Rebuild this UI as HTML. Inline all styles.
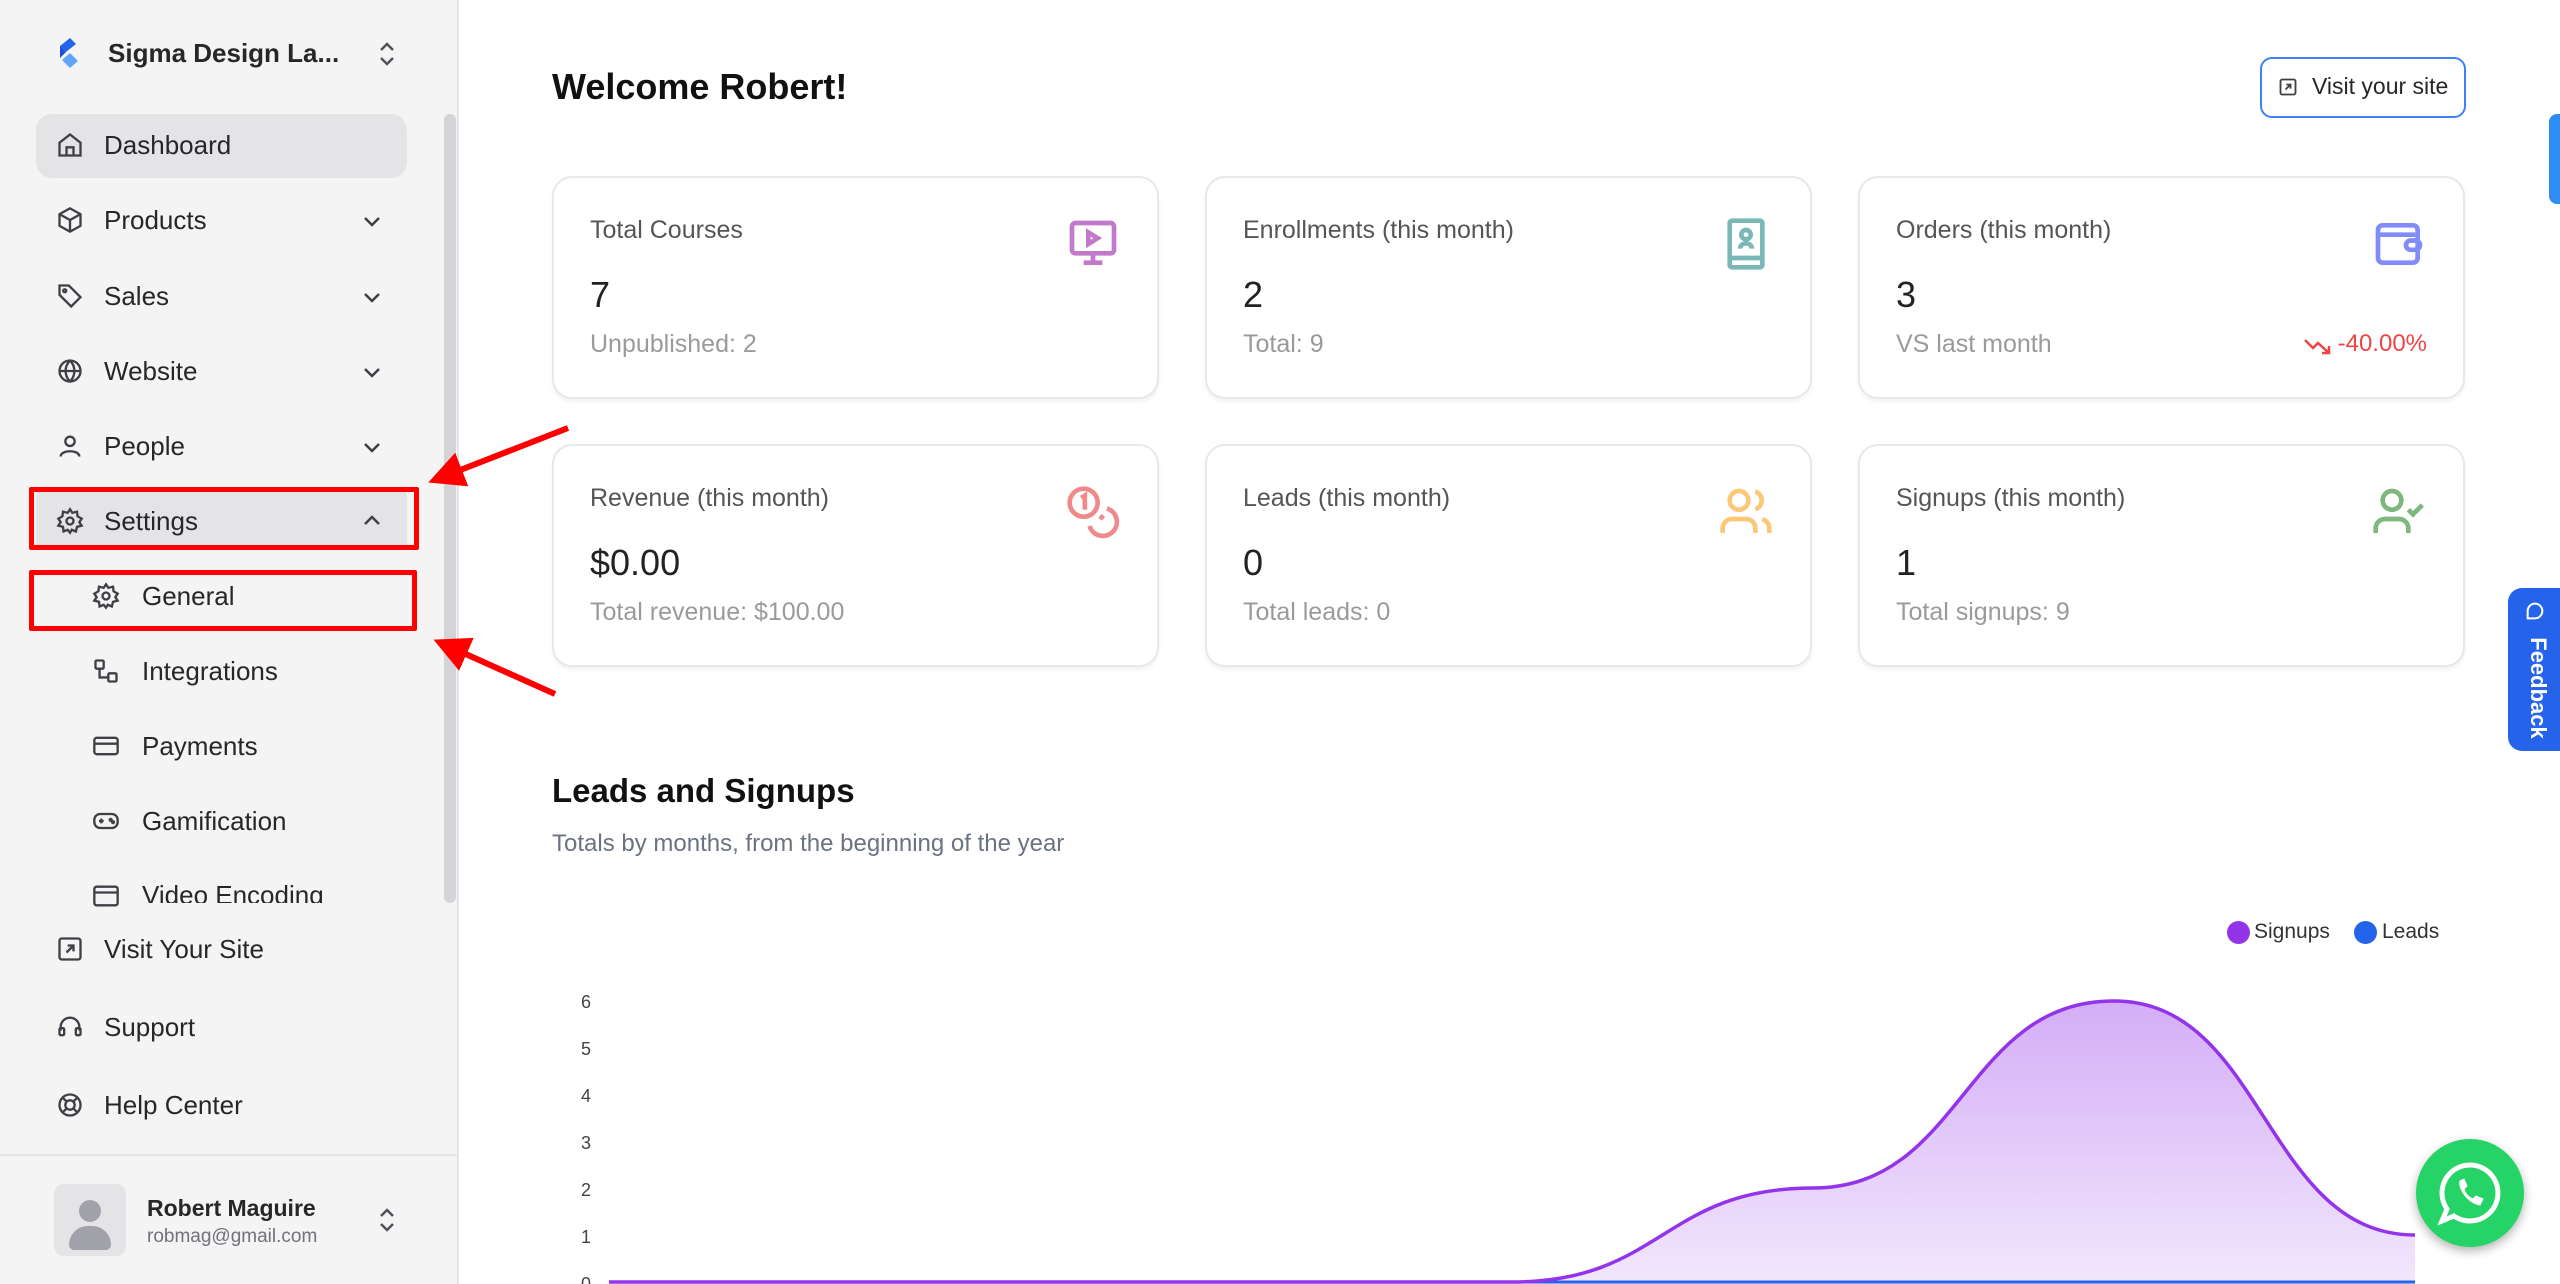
<!DOCTYPE html>
<html><head><meta charset="utf-8"><style>
*{margin:0;padding:0;box-sizing:border-box}
body{width:2560px;height:1284px;overflow:hidden;background:#fff;font-family:"Liberation Sans",sans-serif;position:relative;color:#18181b}
.a{position:absolute}
#sb{left:0;top:0;width:459px;height:1284px;background:#f4f4f5;border-right:2px solid #e4e4e7}
.nav{position:absolute;left:104px;font-size:26px;color:#27272a;font-weight:500;line-height:30px}
.ic{position:absolute;width:28px;height:28px}
.chev{position:absolute;left:360px;width:24px;height:24px}
.card{position:absolute;width:607px;height:223px;border:2px solid #e8e8ea;border-radius:20px;box-shadow:0 3px 4px rgba(0,0,0,0.05);background:#fff}
.ct{position:absolute;left:36px;top:38px;font-size:25px;color:#555}
.cv{position:absolute;left:36px;top:96px;font-size:36px;font-weight:500;color:#222}
.cs{position:absolute;left:36px;top:152px;font-size:25px;color:#9a9a9a}
.ci{position:absolute;right:36px;top:38px;width:56px;height:56px}
</style></head><body>
<div id="sb" class="a"></div>
<svg class="a" style="left:56px;top:36px" width="26" height="36" viewBox="0 0 26 36"><path d="M4 10 L14 2 L20 8 L10 16 Z" fill="#2563eb"/><path d="M4 10 L10 16 L4 22 Z" fill="#1d4ed8"/><path d="M6 24 L14 17 L22 25 L14 32 Z" fill="#60a5fa"/></svg>
<div class="a" style="left:108px;top:38px;font-size:26px;font-weight:600;color:#27272a">Sigma Design La...</div>
<svg class="a" style="left:376px;top:40px" width="22" height="28" viewBox="0 0 22 28" fill="none" stroke="#52525b" stroke-width="2.5"><path d="M5 10 L11 4 L17 10 M5 18 L11 24 L17 18"/></svg>
<div class="a" style="left:36px;top:114px;width:371px;height:64px;background:#e4e4e7;border-radius:16px"></div>
<div class="a" style="left:36px;top:490px;width:371px;height:60px;background:#e4e4e7;border-radius:6px"></div>
<svg class="ic" style="left:56px;top:131px" viewBox="0 0 24 24" fill="none" stroke="#3f3f46" stroke-width="2"><path d="M3 10 L12 3 L21 10 V21 H3 Z M9 21 V14 H15 V21"/></svg>
<svg class="ic" style="left:56px;top:206px" viewBox="0 0 24 24" fill="none" stroke="#3f3f46" stroke-width="2"><path d="M12 2 L21 7 V17 L12 22 L3 17 V7 Z M3 7 L12 12 L21 7 M12 12 V22"/></svg>
<svg class="ic" style="left:56px;top:282px" viewBox="0 0 24 24" fill="none" stroke="#3f3f46" stroke-width="2"><path d="M3 3 H11 L21 13 L13 21 L3 11 Z"/><circle cx="7.5" cy="7.5" r="1.3"/></svg>
<svg class="ic" style="left:56px;top:357px" viewBox="0 0 24 24" fill="none" stroke="#3f3f46" stroke-width="2"><circle cx="12" cy="12" r="9"/><path d="M3 12 H21 M12 3 C7 8 7 16 12 21 C17 16 17 8 12 3"/></svg>
<svg class="ic" style="left:56px;top:432px" viewBox="0 0 24 24" fill="none" stroke="#3f3f46" stroke-width="2"><circle cx="12" cy="8" r="4"/><path d="M4 21 C4 15 20 15 20 21"/></svg>
<svg class="ic" style="left:56px;top:507px" viewBox="0 0 24 24" fill="none" stroke="#3f3f46" stroke-width="2"><circle cx="12" cy="12" r="3"/><path d="M12 2 L14 5 L18 4 L18.5 8 L22 10 L20 13 L22 16 L18 17 L17 21 L13.5 19.5 L12 22 L10 19.5 L6.5 21 L6 17 L2 16 L4 13 L2 10 L5.5 8 L6 4 L10 5 Z"/></svg>
<svg class="ic" style="left:92px;top:582px" viewBox="0 0 24 24" fill="none" stroke="#3f3f46" stroke-width="2"><circle cx="12" cy="12" r="3"/><path d="M12 2 L14 5 L18 4 L18.5 8 L22 10 L20 13 L22 16 L18 17 L17 21 L13.5 19.5 L12 22 L10 19.5 L6.5 21 L6 17 L2 16 L4 13 L2 10 L5.5 8 L6 4 L10 5 Z"/></svg>
<svg class="ic" style="left:92px;top:657px" viewBox="0 0 24 24" fill="none" stroke="#3f3f46" stroke-width="2"><rect x="3" y="3" width="7" height="7" rx="1"/><rect x="14" y="14" width="7" height="7" rx="1"/><path d="M6.5 10 V17.5 H14"/></svg>
<svg class="ic" style="left:92px;top:732px" viewBox="0 0 24 24" fill="none" stroke="#3f3f46" stroke-width="2"><rect x="2" y="5" width="20" height="14" rx="2"/><path d="M2 10 H22"/></svg>
<svg class="ic" style="left:92px;top:807px" viewBox="0 0 24 24" fill="none" stroke="#3f3f46" stroke-width="2"><rect x="2" y="6" width="20" height="12" rx="5"/><path d="M6 12 H10 M8 10 V14"/><circle cx="16" cy="11" r="0.8"/><circle cx="18" cy="13" r="0.8"/></svg>
<svg class="ic" style="left:92px;top:882px" viewBox="0 0 24 24" fill="none" stroke="#3f3f46" stroke-width="2"><rect x="2" y="4" width="20" height="16" rx="2"/><path d="M2 9 H22"/></svg>
<svg class="ic" style="left:56px;top:935px" viewBox="0 0 24 24" fill="none" stroke="#3f3f46" stroke-width="2"><rect x="3" y="3" width="18" height="18" rx="2"/><path d="M9 15 L15 9 M10 9 H15 V14"/></svg>
<svg class="ic" style="left:56px;top:1013px" viewBox="0 0 24 24" fill="none" stroke="#3f3f46" stroke-width="2"><path d="M4 15 V12 A8 8 0 0 1 20 12 V15"/><rect x="3" y="13" width="4" height="6" rx="1"/><rect x="17" y="13" width="4" height="6" rx="1"/></svg>
<svg class="ic" style="left:56px;top:1091px" viewBox="0 0 24 24" fill="none" stroke="#3f3f46" stroke-width="2"><circle cx="12" cy="12" r="9"/><circle cx="12" cy="12" r="4"/><path d="M5.6 5.6 L9.2 9.2 M18.4 5.6 L14.8 9.2 M5.6 18.4 L9.2 14.8 M18.4 18.4 L14.8 14.8"/></svg>
<div class="nav" style="top:130px">Dashboard</div>
<div class="nav" style="top:205px">Products</div>
<div class="nav" style="top:281px">Sales</div>
<div class="nav" style="top:356px">Website</div>
<div class="nav" style="top:431px">People</div>
<div class="nav" style="top:506px">Settings</div>
<div class="nav" style="left:142px;top:581px">General</div>
<div class="nav" style="left:142px;top:656px">Integrations</div>
<div class="nav" style="left:142px;top:731px">Payments</div>
<div class="nav" style="left:142px;top:806px">Gamification</div>
<div class="a" style="left:0;top:880px;width:440px;height:23px;overflow:hidden"><div class="nav" style="left:142px;top:0">Video Encoding</div></div>
<div class="nav" style="top:934px">Visit Your Site</div>
<div class="nav" style="top:1012px">Support</div>
<div class="nav" style="top:1090px">Help Center</div>
<svg class="chev" style="top:209px" viewBox="0 0 24 24" fill="none" stroke="#3f3f46" stroke-width="2.5"><path d="M5 9 L12 16 L19 9"/></svg>
<svg class="chev" style="top:285px" viewBox="0 0 24 24" fill="none" stroke="#3f3f46" stroke-width="2.5"><path d="M5 9 L12 16 L19 9"/></svg>
<svg class="chev" style="top:360px" viewBox="0 0 24 24" fill="none" stroke="#3f3f46" stroke-width="2.5"><path d="M5 9 L12 16 L19 9"/></svg>
<svg class="chev" style="top:435px" viewBox="0 0 24 24" fill="none" stroke="#3f3f46" stroke-width="2.5"><path d="M5 9 L12 16 L19 9"/></svg>
<svg class="chev" style="top:509px" viewBox="0 0 24 24" fill="none" stroke="#3f3f46" stroke-width="2.5"><path d="M5 15 L12 8 L19 15"/></svg>
<div class="a" style="left:444px;top:114px;width:12px;height:789px;background:#d4d4d8;border-radius:6px"></div>
<div class="a" style="left:0;top:1154px;width:459px;height:2px;background:#e4e4e7"></div>
<div class="a" style="left:54px;top:1184px;width:72px;height:72px;background:#e4e4e7;border-radius:10px;overflow:hidden"><div class="a" style="left:25px;top:16px;width:22px;height:22px;border-radius:50%;background:#a1a1aa"></div><div class="a" style="left:15px;top:42px;width:42px;height:24px;border-radius:21px 21px 6px 6px;background:#a1a1aa"></div></div>
<div class="a" style="left:147px;top:1195px;font-size:23px;font-weight:700;color:#27272a">Robert Maguire</div>
<div class="a" style="left:147px;top:1226px;font-size:19px;color:#71717a">robmag@gmail.com</div>
<svg class="a" style="left:376px;top:1206px" width="22" height="28" viewBox="0 0 22 28" fill="none" stroke="#52525b" stroke-width="2.5"><path d="M5 10 L11 4 L17 10 M5 18 L11 24 L17 18"/></svg>
<div class="a" style="left:29px;top:487px;width:390px;height:63px;border:5px solid #ff0000;border-radius:2px"></div>
<div class="a" style="left:29px;top:570px;width:388px;height:61px;border:5px solid #ff0000;border-radius:2px"></div>
<svg class="a" style="left:0;top:0" width="600" height="720"><defs><marker id="ah" markerWidth="6" markerHeight="6" refX="3" refY="3" orient="auto"><path d="M0 0 L6 3 L0 6 Z" fill="#ff0000"/></marker></defs>
<line x1="568" y1="428" x2="445" y2="476" stroke="#ff0000" stroke-width="6" marker-end="url(#ah)"/>
<line x1="555" y1="694" x2="450" y2="647" stroke="#ff0000" stroke-width="6" marker-end="url(#ah)"/></svg>
<div class="a" style="left:552px;top:66px;font-size:36px;font-weight:700;color:#111">Welcome Robert!</div>
<div class="a" style="left:2260px;top:57px;width:206px;height:61px;border:2px solid #3b82f6;border-radius:12px"></div>
<svg class="a" style="left:2278px;top:77px" width="20" height="20" viewBox="0 0 24 24" fill="none" stroke="#3f3f46" stroke-width="2.2"><rect x="3" y="3" width="18" height="18" rx="2"/><path d="M9 15 L15 9 M10 9 H15 V14"/></svg>
<div class="a" style="left:2312px;top:73px;font-size:23px;color:#27272a;font-weight:500">Visit your site</div>
<div class="card" style="left:552px;top:176px"><div class="ct">Total Courses</div><div class="cv">7</div><div class="cs">Unpublished: 2</div>
<svg class="ci" viewBox="0 0 24 24" fill="none" stroke="#c17ac9" stroke-width="2"><rect x="3" y="3" width="18" height="13" rx="1.5"/><path d="M10 7 L14 9.5 L10 12 Z M12 16 V20 M8 20 H16"/></svg></div>
<div class="card" style="left:1205px;top:176px"><div class="ct">Enrollments (this month)</div><div class="cv">2</div><div class="cs">Total: 9</div>
<svg class="ci" viewBox="0 0 24 24" fill="none" stroke="#7ab8b8" stroke-width="2"><rect x="5" y="2" width="14" height="20" rx="1"/><path d="M5 18 H19"/><circle cx="12" cy="8" r="2"/><path d="M9.5 14 C9.5 11 14.5 11 14.5 14"/></svg></div>
<div class="card" style="left:1858px;top:176px"><div class="ct">Orders (this month)</div><div class="cv">3</div><div class="cs">VS last month</div>
<svg class="ci" viewBox="0 0 24 24" fill="none" stroke="#818cf8" stroke-width="2"><rect x="3" y="4" width="17" height="16" rx="2"/><path d="M3 8 H19"/><rect x="15" y="10.5" width="6" height="4" rx="2"/></svg>
<div class="a" style="right:36px;top:152px;font-size:24px;color:#ef4444">-40.00%</div>
<svg class="a" style="right:130px;top:156px" width="30" height="24" viewBox="0 0 30 24" fill="none" stroke="#ef4444" stroke-width="2.5"><path d="M2 6 L10 14 L15 9 L26 19 M26 12 V19 H19"/></svg></div>
<div class="card" style="left:552px;top:444px"><div class="ct">Revenue (this month)</div><div class="cv">$0.00</div><div class="cs">Total revenue: $100.00</div>
<svg class="ci" viewBox="0 0 24 24" fill="none" stroke="#f08a8a" stroke-width="2"><circle cx="8" cy="8" r="6"/><path d="M7 6 L8.5 5 V11"/><path d="M18 10.5 A6 6 0 1 1 10.5 18"/><path d="M15 15 L16.5 13.5"/></svg></div>
<div class="card" style="left:1205px;top:444px"><div class="ct">Leads (this month)</div><div class="cv">0</div><div class="cs">Total leads: 0</div>
<svg class="ci" viewBox="0 0 24 24" fill="none" stroke="#fbc87a" stroke-width="2"><circle cx="9" cy="7" r="4"/><path d="M2 21 V19 A4 4 0 0 1 6 15 H12 A4 4 0 0 1 16 19 V21 M16 3.2 A4 4 0 0 1 16 10.8 M22 21 V19 A4 4 0 0 0 19 15.1"/></svg></div>
<div class="card" style="left:1858px;top:444px"><div class="ct">Signups (this month)</div><div class="cv">1</div><div class="cs">Total signups: 9</div>
<svg class="ci" viewBox="0 0 24 24" fill="none" stroke="#7fb77e" stroke-width="2"><circle cx="9" cy="7" r="4"/><path d="M2 21 V19 A4 4 0 0 1 6 15 H12 A4 4 0 0 1 16 19 V21 M16 11 L18 13 L22 9"/></svg></div>
<div class="a" style="left:552px;top:772px;font-size:33px;font-weight:600;color:#111">Leads and Signups</div>
<div class="a" style="left:552px;top:830px;font-size:24px;color:#6b7280">Totals by months, from the beginning of the year</div>
<div class="a" style="left:2227px;top:921px;width:23px;height:23px;border-radius:50%;background:#9333ea"></div>
<div class="a" style="left:2254px;top:920px;font-size:21px;color:#333">Signups</div>
<div class="a" style="left:2354px;top:921px;width:23px;height:23px;border-radius:50%;background:#2563eb"></div>
<div class="a" style="left:2382px;top:920px;font-size:21px;color:#333">Leads</div>
<svg class="a" style="left:0;top:0" width="2560" height="1284">
<defs><linearGradient id="g" x1="0" y1="1001" x2="0" y2="1282" gradientUnits="userSpaceOnUse"><stop offset="0" stop-color="#9333ea" stop-opacity="0.4"/><stop offset="1" stop-color="#9333ea" stop-opacity="0.12"/></linearGradient></defs>
<g font-family="Liberation Sans" font-size="18" fill="#444" text-anchor="middle">
<text x="586" y="1008">6</text><text x="586" y="1055">5</text><text x="586" y="1102">4</text><text x="586" y="1149">3</text><text x="586" y="1196">2</text><text x="586" y="1243">1</text><text x="586" y="1290">0</text></g>
<path d="M1512 1282 C1662 1282 1663 1188 1813 1188 C1963 1188 1964 1001 2114 1001 C2264 1001 2265 1235 2415 1235 L2415 1284 L1512 1284 Z" fill="url(#g)"/>
<line x1="609" y1="1282" x2="2415" y2="1282" stroke="#2563eb" stroke-width="3"/>
<path d="M609 1282 L1512 1282 C1662 1282 1663 1188 1813 1188 C1963 1188 1964 1001 2114 1001 C2264 1001 2265 1235 2415 1235" fill="none" stroke="#9333ea" stroke-width="3.5"/>
</svg>
<div class="a" style="left:2549px;top:114px;width:20px;height:90px;background:#2f8cf5;border-radius:8px 0 0 8px"></div>
<div class="a" style="left:2508px;top:588px;width:60px;height:163px;background:#2563eb;border-radius:14px 0 0 14px"></div>
<div class="a" style="left:2538px;top:688px;transform:translate(-50%,-50%) rotate(90deg);color:#fff;font-size:22px;font-weight:600;white-space:nowrap">Feedback</div>
<svg class="a" style="left:2524px;top:600px" width="22" height="22" viewBox="0 0 24 24" fill="none" stroke="#fff" stroke-width="2.2"><path d="M4 12 A8 8 0 1 1 12 20 H4 Z"/></svg>
<div class="a" style="left:2416px;top:1139px;width:108px;height:108px;border-radius:50%;background:#25d366;box-shadow:0 4px 10px rgba(0,0,0,0.3)"></div>
<svg class="a" style="left:2430px;top:1153px" width="80" height="80" viewBox="0 0 80 80" fill="none" stroke="#fff" stroke-width="5"><path d="M40 12 A28 28 0 1 1 24 63 L12 68 L17 56 A28 28 0 0 1 40 12 Z"/><path d="M30 28 C28 36 38 50 50 52 L53 46 L46 43 L43 46 C38 44 35 40 34 36 L37 33 L34 26 Z" fill="#fff" stroke-width="1"/></svg>
</body></html>
